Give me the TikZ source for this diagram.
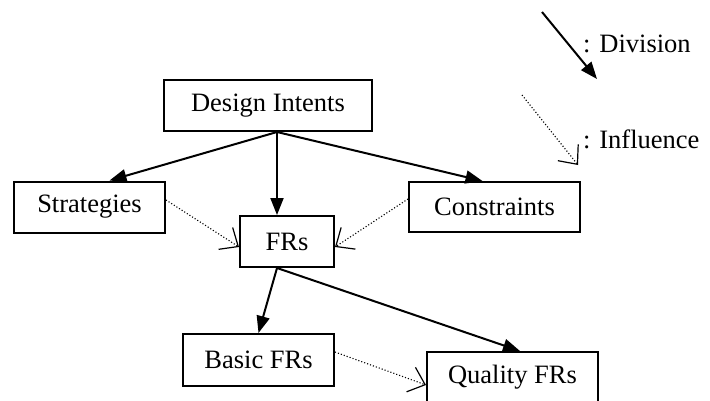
\documentclass[tikz,border=0pt]{standalone}
\usepackage{fontspec}
\setmainfont{Liberation Serif}
\usetikzlibrary{arrows.meta}
\begin{document}
\begin{tikzpicture}[x=1pt,y=-1pt,font=\fontsize{26.5}{30}\selectfont,
    box/.style={draw,line width=2pt,inner sep=0pt,minimum height=51pt},
    divide/.style={line width=2pt,-{Triangle[length=17pt,width=13pt]}},
    influence/.style={line width=1.1pt,dotted,-{Straight Barb[length=15pt,width=26pt,line width=1.2pt,sep=0pt]}}]
                \useasboundingbox (0,0) rectangle (710,400);
                \node[box,minimum width=208pt] (intents) at (268,105.5) {Design Intents};
                \node[box,minimum width=151pt] (strategies) at (89.5,207) {Strategies};
                \node[box,minimum width=94pt] (frs) at (287,241.5) {FRs};
                \node[box,minimum width=171pt,minimum height=50pt] (constraints) at (494.5,207) {Constraints};
                \node[box,minimum width=151pt,minimum height=52pt] (basic) at (258.5,360) {Basic FRs};
                \node[box,minimum width=171pt] (quality) at (512.5,377.5) {Quality FRs};
                \draw[divide] ([xshift=9pt]intents.south) -- ([xshift=20pt]strategies.north);
                \draw[divide] ([xshift=9pt]intents.south) -- ([xshift=-10pt]frs.north);
                \draw[divide] ([xshift=9pt]intents.south) -- ([xshift=-12pt]constraints.north);
                \draw[influence] ([yshift=7pt]strategies.east) -- ([yshift=-5.5pt]frs.west);
                \draw[influence] ([yshift=8pt]constraints.west) -- ([yshift=-5.5pt]frs.east);
                \draw[divide] ([xshift=-10pt]frs.south) -- (basic.north);
                \draw[divide] ([xshift=-10pt]frs.south) -- ([xshift=7.5pt]quality.north);
                \draw[influence] ([yshift=8pt]basic.east) -- ([yshift=-7.5pt]quality.west);
                % legend
                \coordinate (divA) at (542,12);
                \coordinate (divB) at (597,79);
                \coordinate (infA) at (522,95);
                \coordinate (infB) at (578,165);
                \draw[divide] (divA) -- (divB);
                \draw[influence] (infA) -- (infB);
                \node[anchor=west,inner sep=0pt] (divlabel) at (583,44) {: Division};
                \node[anchor=west,inner sep=0pt] (inflabel) at (583,139) {: Influence};
            \end{tikzpicture}
\end{document}
